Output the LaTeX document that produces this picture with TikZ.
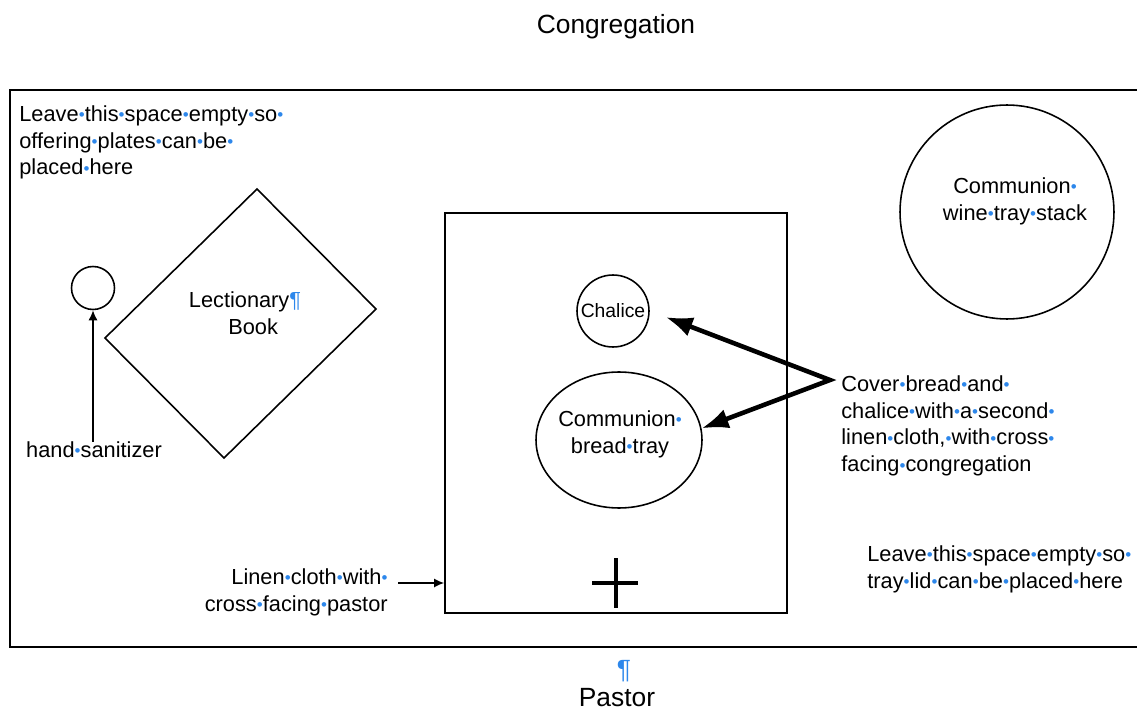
\documentclass[tikz,border=0pt]{standalone}
\usepackage{graphicx}
\usepackage{fontspec}
\setmainfont{Liberation Sans}
\usetikzlibrary{shapes.geometric, arrows.meta, calc}

\definecolor{markblue}{RGB}{45,135,235}
% Word's formatting marks: a space dot and a paragraph mark
\newcommand{\spdot}{\makebox[0.278em]{\textcolor{markblue}{\raisebox{0.03em}{\scalebox{0.78}{\char"2022}}}}}
\newcommand{\pilcrow}{\textcolor{markblue}{\char"00B6}}

\begin{document}
\begin{tikzpicture}[
    x=0.02cm, y=-0.02cm, % one unit = one pixel of the sketch
    >=Latex,
    % Styles
    note/.style={ % Plain text notes
        inner sep=0pt,
        font=\fontsize{12.4}{15.3}\selectfont
    },
    heading/.style={ % Congregation / Pastor
        inner sep=0pt,
        font=\fontsize{15}{18}\selectfont
    },
    item/.style={ % Things on the table
        draw,
        line width=0.9pt,
        inner sep=0pt
    },
    round/.style={ % Round items
        item,
        circle
    },
    arrow/.style={ % Thin arrows
        -{Latex[length=2mm, width=1.8mm]},
        line width=0.8pt
    },
    bigarrows/.style={ % Thick double arrow from the cover note
        {Latex[length=5.4mm, width=4mm]}-{Latex[length=5.4mm, width=4mm]},
        line width=2.6pt
    }
]

    \useasboundingbox (0,0) rectangle (1137,713);
    \clip (0,0) rectangle (1137,713);

    % Table top
    \draw [line width=1.3pt] (10,90) rectangle (1160,647);

    % Things on the table
    \node [round, minimum size=0.86cm] (sanitizer) at (93,288) {};
    \draw [item] (257,189) -- (376,309) -- (224,458) -- (105,338) -- cycle; % lectionary book
    \node [item, rectangle, line width=1pt, minimum width=6.84cm, minimum height=8cm] (cloth) at (616,413) {};
    \node [round, minimum size=1.44cm, font=\fontsize{11}{13}\selectfont] (chalice) at (613,311) {Chalice};
    \node [item, ellipse, minimum width=3.32cm, minimum height=2.72cm] (bread) at (619,440) {};
    \node [round, minimum size=4.28cm] (wine) at (1007,212) {};

    % Cross on the linen cloth
    \coordinate (cross) at (616,583);
    \draw [line width=2.8pt] (cross) ++(-24,0) -- ++(46,0) (cross) ++(0,-25) -- ++(0,50);

    % Text notes
    \node [note, anchor=north west, align=left] (plates) at (19,105)
        {Leave\spdot this\spdot space\spdot empty\spdot so\spdot\\offering\spdot plates\spdot can\spdot be\spdot\\placed\spdot here};
    \node [note, anchor=north] (handlabel) at (94,441.5) {hand\spdot sanitizer};
    \node [note, anchor=north, align=center] (lectionary) at (245,291) {Lectionary\pilcrow\\\hspace*{0.75em}Book};
    \node [note, anchor=north, align=center] (breadlabel) at (620,410) {Communion\spdot\\bread\spdot tray};
    \node [note, anchor=north, align=center] (winelabel) at (1015,177) {Communion\spdot\\wine\spdot tray\spdot stack};
    \node [note, anchor=north west, align=left] (cover) at (841,375)
        {Cover\spdot bread\spdot and\spdot\\chalice\spdot with\spdot a\spdot second\spdot\\linen\spdot cloth,\spdot with\spdot cross\spdot\\facing\spdot congregation};
    \node [note, anchor=north west, align=left] (lid) at (867,545)
        {Leave\spdot this\spdot space\spdot empty\spdot so\spdot\\tray\spdot lid\spdot can\spdot be\spdot placed\spdot here};
    \node [note, anchor=north east, align=right] (linen) at (388,568) {Linen\spdot cloth\spdot with\spdot\\cross\spdot facing\spdot pastor};

    % Headings
    \node [heading, anchor=north] (congregation) at (616,14) {Congregation};
    \node [heading, anchor=north] (pmark) at (624,660) {\pilcrow};
    \node [heading, anchor=north] (pastor) at (617,688) {Pastor};

    % Arrows
    \draw [arrow] (handlabel.north -| sanitizer) -- (sanitizer.south);
    \coordinate (linenend) at (398,583);
    \draw [arrow] (linenend) -- (linenend -| cloth.west);
    \coordinate (fork) at (830,380);
    \draw [bigarrows, shorten <=0.34cm] (chalice.east) -- (fork) -- (bread.8);
\end{tikzpicture}
\end{document}
